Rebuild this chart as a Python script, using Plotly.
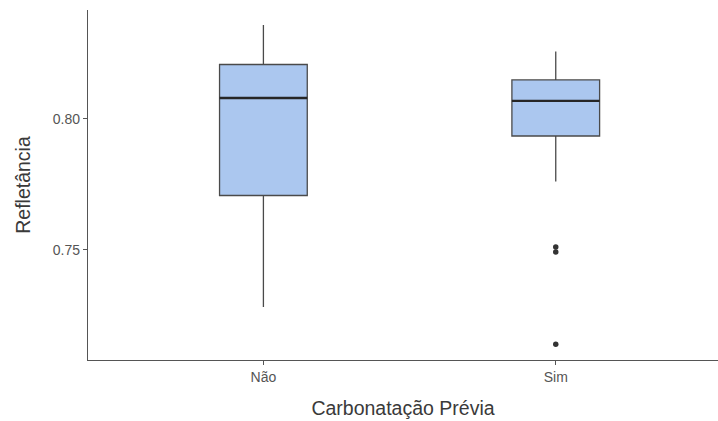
import plotly.graph_objects as go

# Summary statistics of reflectance per group
categories = ["Não", "Sim"]
lower_whisker = [0.7282, 0.7761]
q1_values = [0.7708, 0.7935]
medians = [0.8080, 0.8069]
q3_values = [0.8208, 0.8149]
upper_whisker = [0.8359, 0.8258]

# Outlying observations
outlier_groups = ["Sim", "Sim", "Sim"]
outlier_values = [0.7511, 0.7492, 0.7140]

y_ticks = [0.75, 0.80]
y_tick_labels = ["0.75", "0.80"]

fill = "#ABC7EF"
box_w = 0.3

fig = go.Figure()
fig.add_trace(go.Box(
    x=categories,
    q1=q1_values, median=medians, q3=q3_values,
    lowerfence=lower_whisker, upperfence=upper_whisker,
    fillcolor=fill,
    line=dict(color="#4a4a4a", width=1.3),
    whiskerwidth=0,
    width=box_w,
    boxpoints=False,
    showlegend=False,
    hoverinfo="skip",
))

# Thicker median bars across each box
for idx, med in enumerate(medians):
    fig.add_shape(type="line", xref="x", yref="y",
                  x0=idx - box_w / 2, x1=idx + box_w / 2, y0=med, y1=med,
                  line=dict(color="#262626", width=2.4))

fig.add_trace(go.Scatter(
    x=outlier_groups, y=outlier_values, mode="markers",
    marker=dict(color="#333333", size=5.5),
    showlegend=False, hoverinfo="skip",
))

axis_font = dict(family="Liberation Sans, Arial, sans-serif", size=14, color="#555555")
title_font = dict(family="Liberation Sans, Arial, sans-serif", size=19.5, color="#3a3a3a")

fig.update_layout(
    width=718, height=421,
    margin=dict(l=88, r=0, t=10, b=61),
    paper_bgcolor="white", plot_bgcolor="white",
    font=axis_font,
)
fig.update_xaxes(
    type="category", categoryorder="array", categoryarray=categories,
    range=[-0.6, 1.555],
    showline=True, linecolor="#555555", linewidth=1.3,
    ticks="outside", ticklen=4, tickcolor="#555555", tickwidth=1.3,
    showgrid=False, zeroline=False,
    tickfont=axis_font,
    title=dict(text="Carbonatação Prévia", font=title_font, standoff=17),
)
fig.update_yaxes(
    range=[0.708, 0.8416],
    tickvals=y_ticks, ticktext=y_tick_labels,
    showline=True, linecolor="#555555", linewidth=1.3,
    ticks="outside", ticklen=4, tickcolor="#555555", tickwidth=1.3,
    showgrid=False, zeroline=False,
    tickfont=axis_font,
    title=dict(text="Refletância", font=title_font, standoff=16),
)

fig.write_html("out.html")
